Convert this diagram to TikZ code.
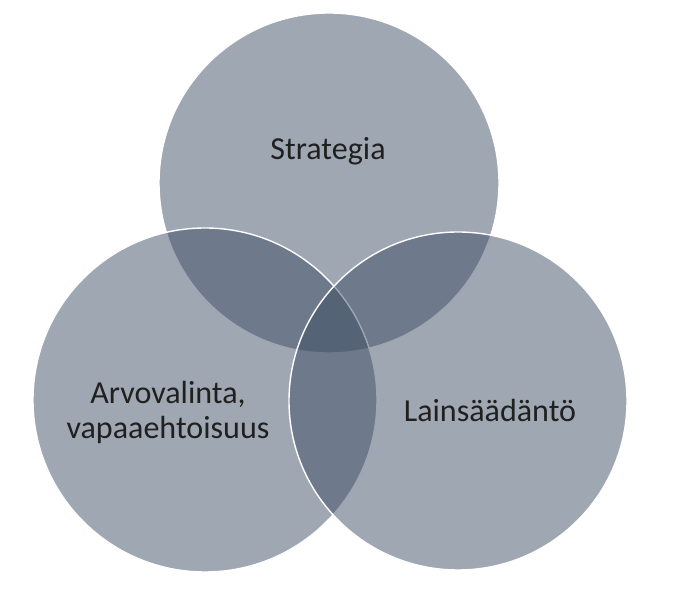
\documentclass[tikz,border=0pt]{standalone}
\usepackage{fontspec}
\setmainfont{Carlito}
\definecolor{vennblue}{RGB}{59,75,98}
\definecolor{labelgray}{RGB}{32,32,32}
\usepackage{tikz}
\usetikzlibrary{positioning}

\begin{document}
\begin{tikzpicture}[
	set/.style={shape=circle, inner sep=0pt, draw=white, line width=1pt,
		fill=vennblue, fill opacity=0.49},
	setlabel/.style={text=labelgray, anchor=base, align=center,
		font=\fontsize{22.8}{25.6}\selectfont}]

	\useasboundingbox (0,0) rectangle (17.25,15.325);

	\node[set, minimum size=8.5cm] at (8.225, 10.75) (S){};
	\node[set, minimum size=8.6cm] at (5.125, 5.325) (A){};
	\node[set, minimum size=8.45cm] at (11.45, 5.3) (L){};

	\node[setlabel] at (8.2, 11.325) (Slabel){Strategia};
	\node[setlabel] at (4.2, 4.35) (Alabel){Arvovalinta,\\vapaaehtoisuus};
	\node[setlabel] at (12.25, 4.775) (Llabel){Lainsäädäntö};
\end{tikzpicture}
\end{document}
